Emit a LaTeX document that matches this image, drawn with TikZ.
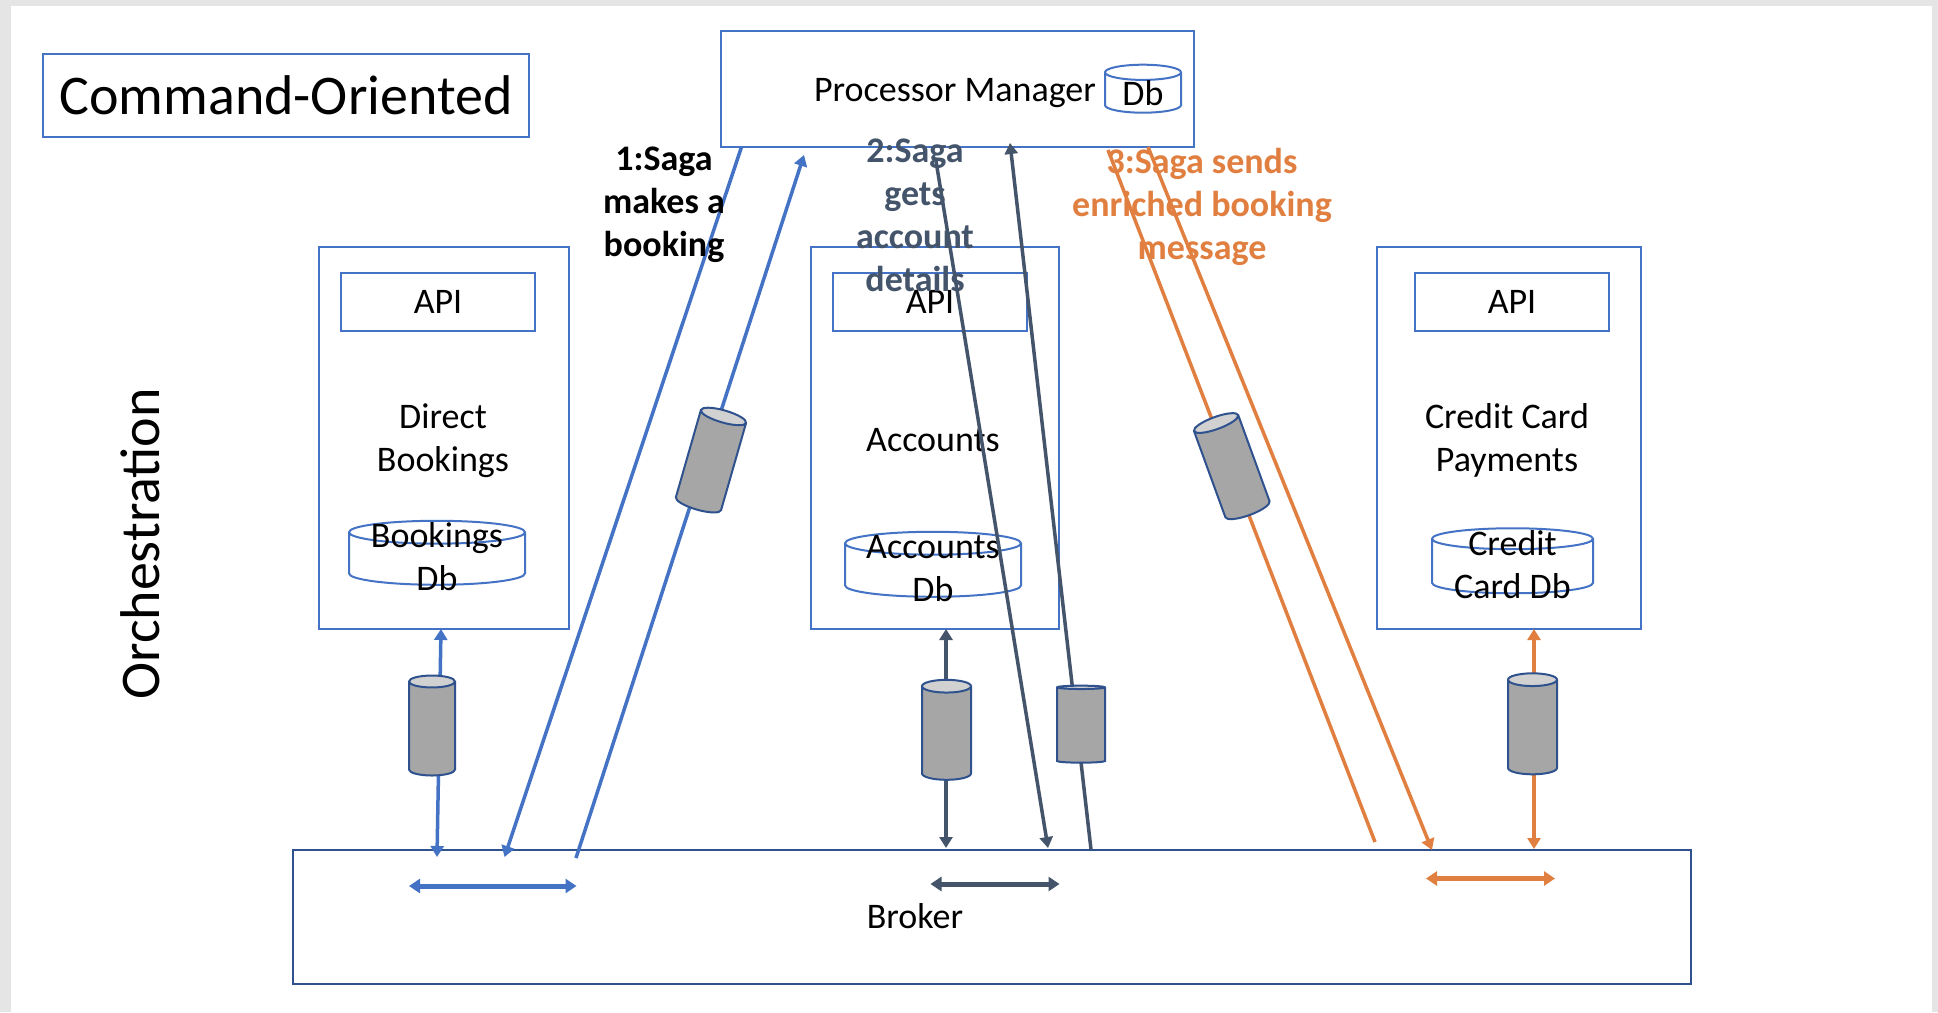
\documentclass[tikz,border=0pt]{standalone}
\usepackage{fontspec}
\setmainfont{Carlito}
\usepackage{xcolor}
\usetikzlibrary{shapes.geometric, arrows.meta, positioning}

\definecolor{boxblue}{HTML}{4472C4}
\definecolor{edgeblue}{HTML}{2F528F}
\definecolor{slate}{HTML}{44546A}
\definecolor{saga}{HTML}{E07F3F}

\begin{document}
\begin{tikzpicture}[
    x=1pt, y=-1pt,
    every node/.style={outer sep=0pt, inner sep=0pt},
    box/.style={rectangle, draw=boxblue, line width=2pt, font=\fontsize{36}{43}\selectfont, text centered},
    apibox/.style={box, minimum width=194pt, minimum height=58pt},
    txt/.style={font=\fontsize{36}{43}\selectfont, align=center},
    step1/.style={txt, font=\fontsize{36}{43}\selectfont\bfseries},
    store/.style={cylinder, draw=boxblue, line width=2pt, fill=white, shape border rotate=90, aspect=0.13},
    queue/.style={cylinder, draw=edgeblue, line width=2pt, shape border rotate=90, aspect=0.26, cylinder uses custom fill, cylinder body fill=black!35, cylinder end fill=black!18},
    arrow/.style={line width=3.5pt, -{Triangle[length=11pt,width=13pt]}},
    twoway/.style={line width=3.5pt, {Triangle[length=11pt,width=13pt]}-{Triangle[length=11pt,width=13pt]}},
    inbroker/.style={line width=5pt, {Triangle[length=11pt,width=14pt]}-{Triangle[length=11pt,width=14pt]}}
]

% Page
\fill [black!10] (0,0) rectangle (1938,1012);
\fill [white] (11,6) rectangle (1932,1012);
\useasboundingbox (0,0) rectangle (1938,1012);

% Nodes
\node (title) [box, minimum width=486pt, minimum height=83pt, font=\fontsize{56}{60}\selectfont] at (286,95.5) {Command-Oriented};
\node (manager) [box, minimum width=473pt, minimum height=116pt] at (957,89) {};
\node (bookings) [box, minimum width=250pt, minimum height=382pt] at (443.5,438) {};
\node (accounts) [box, minimum width=248pt, minimum height=382pt] at (935,438) {};
\node (credit) [box, minimum width=264pt, minimum height=382pt] at (1509,438) {};
\node (broker) [box, draw=edgeblue, minimum width=1398pt, minimum height=134pt] at (992,916.5) {};

\node (bookingsapi) [apibox, below=26pt of bookings.north, xshift=-5.5pt] {API};
\node (accountsapi) [apibox, below=26pt of accounts.north, xshift=-5pt] {API};
\node (creditapi) [apibox, below=26pt of credit.north, xshift=3pt] {API};

\node (managertext) [txt, left=2pt of manager.center, anchor=center, yshift=-4pt] {Processor Manager};
\node (bookingstext) [txt, below=138.5pt of bookingsapi.center, anchor=center, xshift=5pt] {Direct\\Bookings};
\node (accountstext) [txt, below=138pt of accountsapi.center, anchor=center, xshift=3pt] {Accounts};
\node (credittext) [txt, below=138.5pt of creditapi.center, anchor=center, xshift=-5pt] {Credit Card\\Payments};
\node (brokertext) [txt, left=77pt of broker.center, anchor=center, yshift=0pt] {Broker};

% Databases
\node (managerdb) [store, text width=76pt, minimum height=48pt, aspect=0.2] at (1143,93) {};
\node (bookingsdb) [store, text width=176pt, minimum height=64pt] at (437,559) {};
\node (accountsdb) [store, text width=176pt, minimum height=65pt] at (933,570.5) {};
\node (creditdb) [store, text width=161pt, minimum height=65pt] at (1512.5,566.5) {};
\node (managerdbtext) [txt, below=0pt of managerdb.center, anchor=center] {Db};
\node (bookingsdbtext) [txt, above=2pt of bookingsdb.center, anchor=center] {Bookings\\Db};
\node (accountsdbtext) [txt, above=1.5pt of accountsdb.center, anchor=center] {Accounts\\Db};
\node (creditdbtext) [txt, above=2pt of creditdb.center, anchor=center] {Credit\\Card Db};

% Ends of the arrows
\coordinate (bookingsin) at (437,857);
\coordinate (sagaoutend) at (504.5,857);
\coordinate (sagaback) at (576,858);
\coordinate (sagabackend) at (804,155);
\coordinate (accountsin) at (946,848);
\coordinate (detailsstart) at (936,161);
\coordinate (detailsend) at (1048,848);
\coordinate (replyend) at (1010,143);
\coordinate (enrichstart) at (1108,150);
\coordinate (enrichend) at (1375,842);
\coordinate (sendend) at (1432,850);
\coordinate (creditin) at (1534,849);

% Arrows
\draw [twoway, boxblue] ([xshift=-2.5pt]bookings.south) -- (bookingsin);
\draw [arrow, boxblue] ([xshift=21pt]manager.south west) -- (sagaoutend);
\draw [arrow, boxblue] (sagaback) -- (sagabackend);
\draw [inbroker, boxblue] (409,886) -- (576.5,886);

\draw [twoway, slate] ([xshift=11pt]accounts.south) -- (accountsin);
\draw [arrow, slate] (detailsstart) -- (detailsend);
\draw [arrow, slate] ([xshift=99pt]broker.north) -- (replyend);
\draw [inbroker, slate] (930.5,884) -- (1059.5,884);

\draw [twoway, saga] ([xshift=25pt]credit.south) -- (creditin);
\draw [line width=3.5pt, saga] (enrichstart) -- (enrichend);
\draw [arrow, saga] ([xshift=191pt]manager.south) -- (sendend);
\draw [inbroker, saga] (1426,878.5) -- (1555,878.5);

% Queues
\node (bookingsqueue) [queue, text width=46pt, minimum height=100pt] at (432,729) {};
\node (accountsqueue) [queue, text width=49pt, minimum height=100pt] at (946.5,733.5) {};
\node (replyqueue) [queue, text width=48pt, minimum height=77pt, aspect=0.07] at (1081,725.5) {};
\node (creditqueue) [queue, text width=49pt, minimum height=101pt] at (1532.5,727.5) {};
\node (sagaqueue) [queue, text width=47pt, minimum height=103pt, rotate=-16] at (710,463.5) {};
\node (sendqueue) [queue, text width=47pt, minimum height=104pt, rotate=20] at (1233,469.5) {};

% Labels
\node (orchestration) [txt, rotate=90, font=\fontsize{56}{60}\selectfont] at (140,544) {Orchestration};
\node (sagaone) [step1] at (664,204.5) {1:Saga\\makes a\\booking};
\node (sagatwo) [step1, text=slate] at (915,215) {2:Saga\\gets\\account\\details};
\node (sagathree) [step1, text=saga] at (1202,206.5) {3:Saga sends\\enriched booking\\message};

\end{tikzpicture}
\end{document}
